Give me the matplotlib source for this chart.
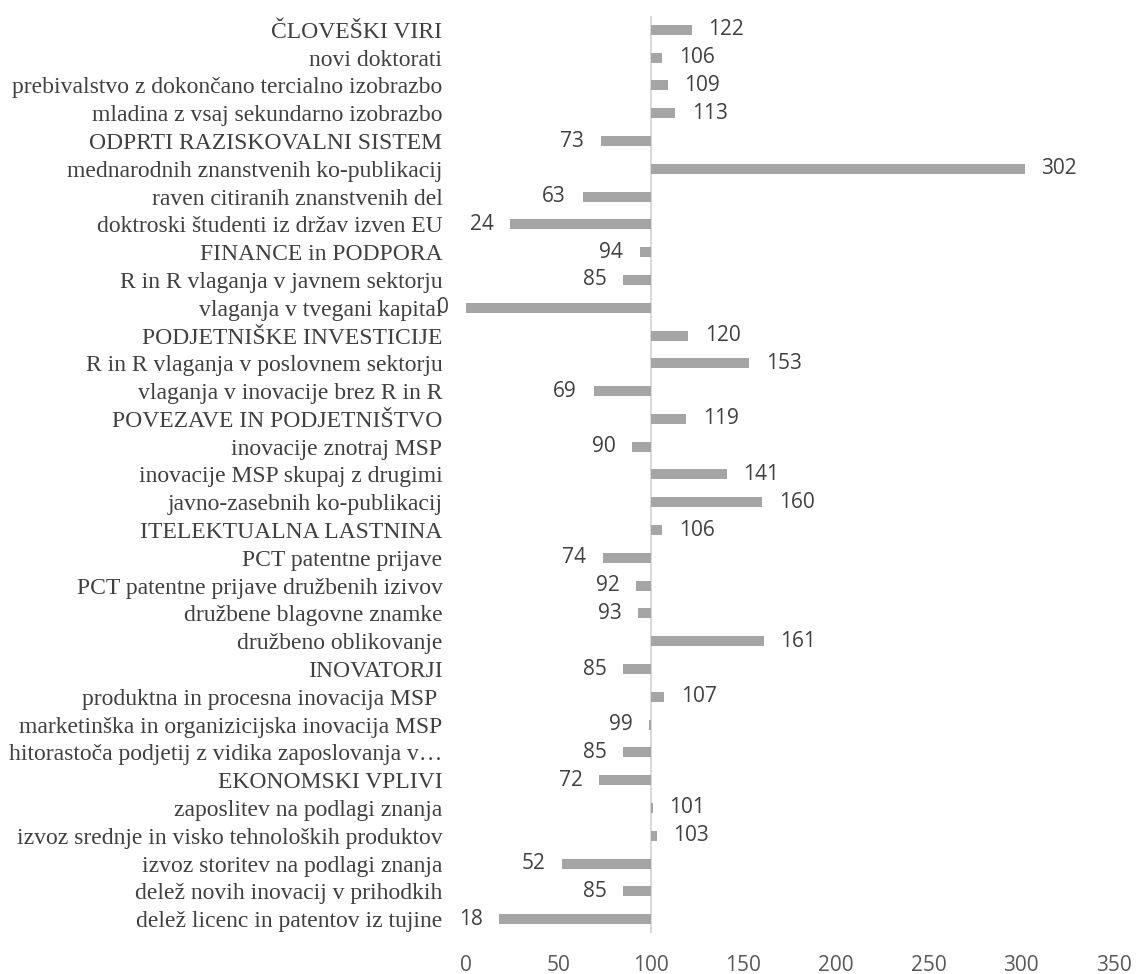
import numpy as np
import matplotlib
matplotlib.use("Agg")
import matplotlib.pyplot as plt

# Data (top to bottom as in the chart)
categories = [
    "ČLOVEŠKI VIRI",
    "novi doktorati",
    "prebivalstvo z dokončano tercialno izobrazbo",
    "mladina z vsaj sekundarno izobrazbo",
    "ODPRTI RAZISKOVALNI SISTEM",
    "mednarodnih znanstvenih ko-publikacij",
    "raven citiranih znanstvenih del",
    "doktroski študenti iz držav izven EU",
    "FINANCE in PODPORA",
    "R in R vlaganja v javnem sektorju",
    "vlaganja v tvegani kapital",
    "PODJETNIŠKE INVESTICIJE",
    "R in R vlaganja v poslovnem sektorju",
    "vlaganja v inovacije brez R in R",
    "POVEZAVE IN PODJETNIŠTVO",
    "inovacije znotraj MSP",
    "inovacije MSP skupaj z drugimi",
    "javno-zasebnih ko-publikacij",
    "ITELEKTUALNA LASTNINA",
    "PCT patentne prijave",
    "PCT patentne prijave družbenih izivov",
    "družbene blagovne znamke",
    "družbeno oblikovanje",
    "INOVATORJI",
    "produktna in procesna inovacija MSP ",
    "marketinška in organizicijska inovacija MSP",
    "hitorastoča podjetij z vidika zaposlovanja v…",
    "EKONOMSKI VPLIVI",
    "zaposlitev na podlagi znanja",
    "izvoz srednje in visko tehnoloških produktov",
    "izvoz storitev na podlagi znanja",
    "delež novih inovacij v prihodkih",
    "delež licenc in patentov iz tujine",
]
values = [122, 106, 109, 113, 73, 302, 63, 24, 94, 85, 0, 120, 153, 69,
          119, 90, 141, 160, 106, 74, 92, 93, 161, 85, 107, 99, 85, 72,
          101, 103, 52, 85, 18]
baseline = 100
xticks = [0, 50, 100, 150, 200, 250, 300, 350]

fig = plt.figure(figsize=(11.36, 9.74), dpi=100)
ax = fig.add_axes([0.4102, 0.0421, 0.5700, 0.9415])

vals = np.array(values, dtype=float)
y = np.arange(len(categories))
bars = ax.barh(y, vals - baseline, left=baseline, height=0.36,
               color="#A5A5A5", zorder=2)
ax.bar_label(bars, labels=[str(v) for v in values], padding=12,
             fontsize=15, family="Open Sans", color="#404040")

ax.axvline(baseline, color="#D9D9D9", lw=1.5, zorder=1)

ax.set_xlim(0, 350)
ax.set_ylim(len(categories) - 0.5, -0.5)
ax.set_xticks(xticks)
ax.set_xticklabels([str(t) for t in xticks], family="Open Sans",
                   fontsize=15, color="#595959")
ax.set_yticks(y)
ax.set_yticklabels(categories, family="Liberation Serif", fontsize=17,
                   color="#404040")
ax.tick_params(axis="both", length=0)
ax.tick_params(axis="y", pad=17)
ax.tick_params(axis="x", pad=16)
for s in ax.spines.values():
    s.set_visible(False)

fig.savefig("out.png", dpi=100)
